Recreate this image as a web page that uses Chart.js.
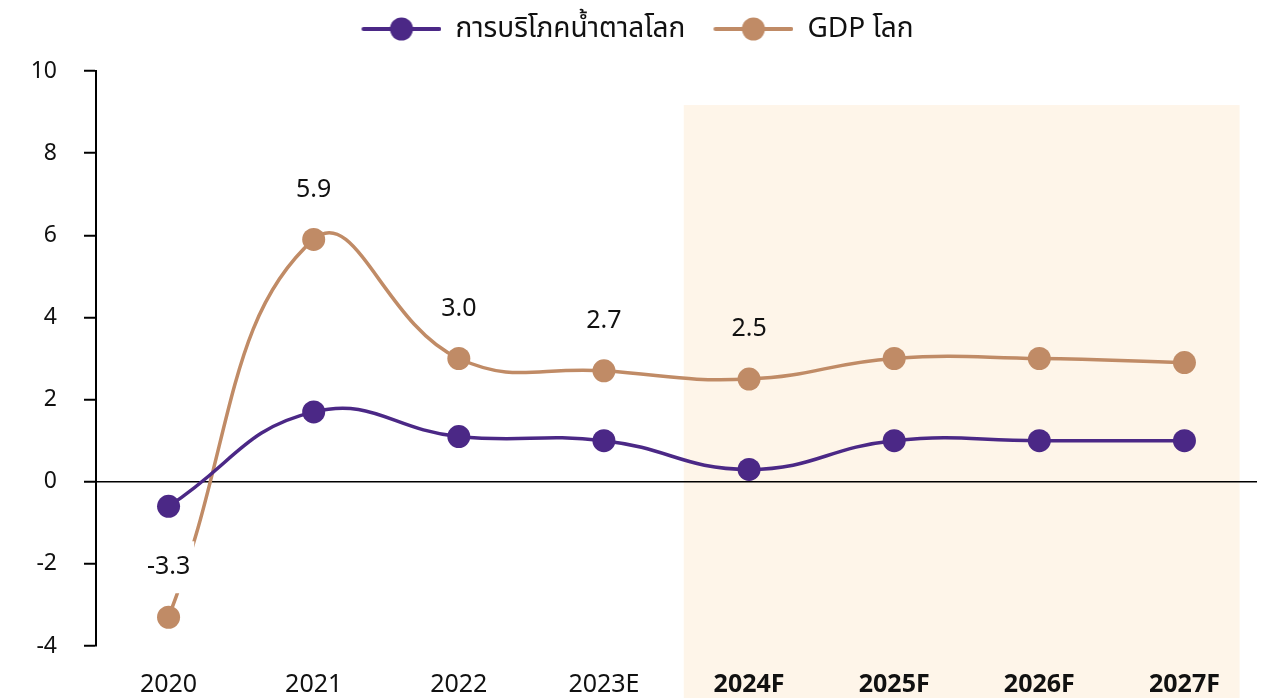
<!DOCTYPE html>
<html>
<head>
<meta charset="utf-8">
<script src="https://cdn.jsdelivr.net/npm/chart.js@4/dist/chart.umd.min.js"></script>
<style>
  html, body { margin: 0; padding: 0; background: #fff; }
  canvas { display: block; }
</style>
</head>
<body>
<canvas id="sugarChart" width="1266" height="698"></canvas>
<script>
// Data
const years = ['2020', '2021', '2022', '2023E', '2024F', '2025F', '2026F', '2027F'];
const sugarUse = [-0.6, 1.7, 1.1, 1.0, 0.3, 1.0, 1.0, 1.0];
const worldGdp = [-3.3, 5.9, 3.0, 2.7, 2.5, 3.0, 3.0, 2.9];
const gdpLabels = ['-3.3', '5.9', '3.0', '2.7', '2.5', '', '', ''];
const yTicks = [-4, -2, 0, 2, 4, 6, 8, 10];
const seriesNames = ['การบริโภคน้ำตาลโลก', 'GDP โลก'];

const colors = {
    purple: '#4b2886',
    tan: '#c08b66',
    shade: '#fef5e9',
    text: '#111111'
};

// forecast band, in category / value units
const shadeFrom = 3.55;
const shadeTo = 7.38;
const shadeTop = 9.17;

Chart.defaults.font.family = "'Noto Sans', 'Noto Sans Thai', 'Open Sans', sans-serif";
Chart.defaults.color = colors.text;

// legend marker: line with a dot, blank space on the left as item gap
function legendMarker(color) {
    const c = document.createElement('canvas');
    c.width = 98;
    c.height = 26;
    const g = c.getContext('2d');
    g.strokeStyle = color;
    g.lineWidth = 4;
    g.lineCap = 'round';
    g.beginPath();
    g.moveTo(20, 13);
    g.lineTo(96, 13);
    g.stroke();
    g.fillStyle = color;
    g.beginPath();
    g.arc(58, 13, 11.5, 0, Math.PI * 2);
    g.fill();
    return c;
}
const markers = [legendMarker(colors.purple), legendMarker(colors.tan)];

const shadePlugin = {
    id: 'forecastShade',
    beforeDraw(chart) {
        const x = chart.scales.x;
        const y = chart.scales.y;
        const left = x.getPixelForValue(shadeFrom);
        const right = x.getPixelForValue(shadeTo);
        const top = y.getPixelForValue(shadeTop);
        const ctx = chart.ctx;
        ctx.save();
        ctx.fillStyle = colors.shade;
        ctx.fillRect(left, top, right - left, chart.height - top);
        ctx.restore();
    }
};

const labelPlugin = {
    id: 'gdpLabels',
    afterDatasetsDraw(chart) {
        const ctx = chart.ctx;
        const meta = chart.getDatasetMeta(1);
        ctx.save();
        ctx.font = "25px 'Noto Sans', sans-serif";
        ctx.textAlign = 'center';
        ctx.textBaseline = 'middle';
        meta.data.forEach((pt, i) => {
            const txt = gdpLabels[i];
            if (!txt) return;
            const cx = pt.x;
            const cy = pt.y - 50;
            const w = ctx.measureText(txt).width + 8;
            ctx.fillStyle = (i >= shadeFrom && i <= shadeTo) ? colors.shade : '#ffffff';
            ctx.fillRect(cx - w / 2, cy - 26, w, 52);
            ctx.fillStyle = colors.text;
            ctx.fillText(txt, cx, cy);
        });
        ctx.restore();
    }
};

new Chart(document.getElementById('sugarChart'), {
    type: 'line',
    data: {
        labels: years,
        datasets: [
            {
                label: seriesNames[0],
                data: sugarUse,
                borderColor: colors.purple,
                backgroundColor: colors.purple,
                borderWidth: 3.5,
                tension: 0.45,
                pointRadius: 11.5,
                pointBorderWidth: 0,
                pointBackgroundColor: colors.purple
            },
            {
                label: seriesNames[1],
                data: worldGdp,
                borderColor: colors.tan,
                backgroundColor: colors.tan,
                borderWidth: 3.5,
                tension: 0.45,
                pointRadius: 11.5,
                pointBorderWidth: 0,
                pointBackgroundColor: colors.tan
            }
        ]
    },
    options: {
        responsive: false,
        devicePixelRatio: 1,
        animation: false,
        layout: {
            autoPadding: false,
            padding: { top: 5, right: 9, bottom: 0, left: 0 }
        },
        plugins: {
            legend: {
                display: true,
                position: 'top',
                labels: {
                    usePointStyle: true,
                    pointStyleWidth: 98,
                    padding: 10,
                    color: colors.text,
                    font: { size: 28 },
                    generateLabels(chart) {
                        const items = Chart.defaults.plugins.legend.labels.generateLabels(chart);
                        items.forEach((it, i) => { it.pointStyle = markers[i]; });
                        return items;
                    }
                }
            },
            // empty title used as a spacer under the legend
            title: {
                display: true,
                text: '',
                weight: 500,
                font: { size: 10, lineHeight: 1 },
                padding: { top: 0, bottom: 8 }
            },
            tooltip: { enabled: false }
        },
        scales: {
            x: {
                type: 'category',
                offset: true,
                afterFit(scale) { scale.height = 52; },
                border: { display: false },
                grid: { display: false, drawTicks: false },
                ticks: {
                    padding: 24,
                    color: colors.text,
                    font: (ctx) => ({
                        size: 25,
                        weight: String(years[ctx.index]).endsWith('F') ? 'bold' : 'normal'
                    })
                }
            },
            y: {
                min: yTicks[0],
                max: yTicks[yTicks.length - 1],
                afterFit(scale) { scale.width = 96; },
                afterBuildTicks(scale) { scale.ticks = yTicks.map(v => ({ value: v })); },
                border: { display: true, color: '#000', width: 2 },
                grid: {
                    drawTicks: true,
                    tickLength: 12,
                    tickWidth: 2,
                    tickColor: '#000',
                    lineWidth: 1.5,
                    color: (ctx) => (ctx.tick && ctx.tick.value === 0 ? '#000' : 'rgba(0,0,0,0)')
                },
                ticks: {
                    padding: 27,
                    color: colors.text,
                    font: { size: 23 }
                }
            }
        }
    },
    plugins: [shadePlugin, labelPlugin]
});
</script>
</body>
</html>
